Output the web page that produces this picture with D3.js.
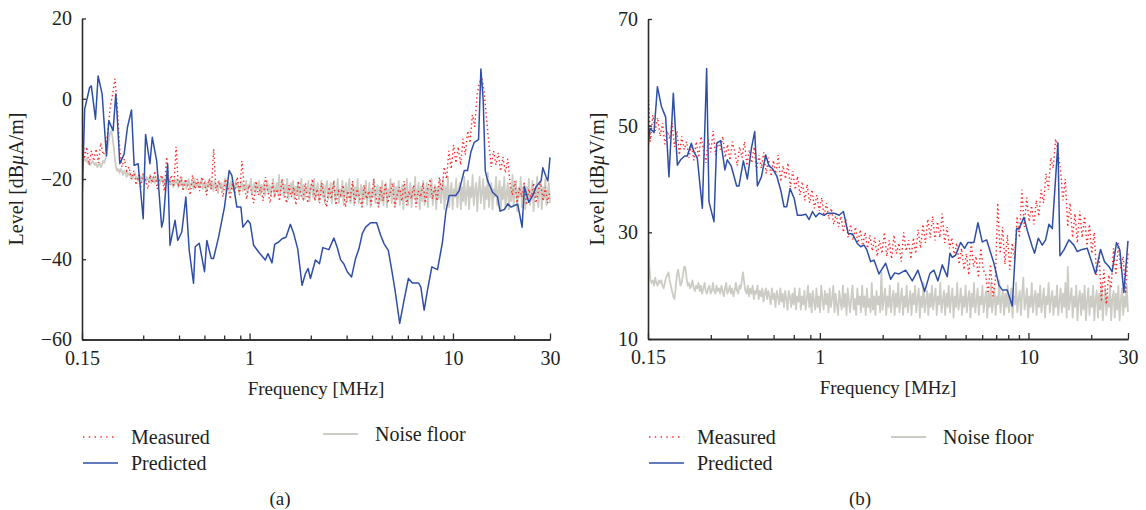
<!DOCTYPE html>
<html>
<head>
<meta charset="utf-8">
<script src="https://cdn.jsdelivr.net/npm/d3@7"></script>
<style>
  body { margin: 0; background: #fff; }
  svg text { font-family: "Liberation Serif", "Times New Roman", serif; fill: #231f20; }
</style>
</head>
<body>
<svg id="chart" width="1146" height="510"></svg>
<script>
// ---- Receiver sweeps, log-spaced from 0.15 MHz to 30 MHz ----
const sweepStart = 0.15, sweepStop = 30;
const sweepCount = 200;   // measured emission traces
const noiseCount = 400;   // ambient noise-floor traces

// ---- (a) magnetic field, dBuA/m ----
const aMeasured = [
  -7,-15,-12,-16.5,-13,-15.5,-12.5,-16,-11,-14,
  -13,-8,-2,1,5,-2,-12,-17,-15,-18,
  -17,-20,-18,-21.5,-19,-22,-18.5,-20,-22.5,-19,
  -21,-18,-22.5,-20,-19,-23,-14.5,-21.5,-19,-22,
  -12,-22,-19.5,-23,-20,-21.5,-24,-19,-22.5,-20,
  -23,-19.5,-21,-24,-20,-22.5,-12.5,-23,-20.5,-22,
  -24.5,-20,-22,-25,-21,-23.5,-19.5,-24,-15.5,-22,
  -25,-21.5,-23,-26,-20.5,-24,-22,-25.5,-19.5,-23,
  -26,-21,-24,-22.5,-25.5,-20,-23.5,-26,-21.5,-24.5,
  -22,-26.5,-20.5,-24,-25,-21,-26,-23,-20,-25.5,
  -22.5,-26,-21,-24.5,-27,-22,-25,-20.5,-26.5,-23,
  -24,-21.5,-27,-23,-25.5,-20.5,-26,-22.5,-24.5,-27,
  -21.5,-25,-23,-26.5,-20,-24.5,-27,-22,-25.5,-21,
  -26,-23.5,-21,-27,-24,-22,-25.5,-20.5,-26.5,-23,
  -25,-21.5,-27,-23,-24.5,-21,-26,-22.5,-20,-25,
  -22,-25.5,-19.5,-23,-17,-20,-13,-17.5,-11.5,-16,
  -12,-16.5,-10,-14,-8,-11,-4,-7,1,4,
  5,2,-5,-11,-17,-13,-16.5,-13.5,-18,-14.5,
  -18.5,-15,-21,-24,-20.5,-26,-22,-24.5,-21,-26.5,
  -22.5,-25,-21,-26,-23,-20.5,-25.5,-22,-26,-23
];
const aNoise = [
  -14,-14.5,-15,-15.5,-15,-16,-15.5,-16.5,-16,-15.5,
  -16,-16.5,-16,-17,-16.5,-16,-17,-16.5,-15.5,-16,
  -15,-14,-12,-10,-8.5,-8,-9.5,-12,-15,-17,
  -18,-17.5,-18.5,-17.5,-18,-19,-18,-18.5,-19.5,-18.5,
  -19,-18.5,-19.5,-20,-19,-18.5,-20,-19.5,-20.5,-19,
  -19.5,-20.5,-19,-20,-21,-19.5,-20,-20.5,-19,-21,
  -20,-19.5,-21,-20,-20.5,-19,-21.5,-20.5,-19.5,-21,
  -20,-21.5,-20.5,-19.5,-21,-20,-21.5,-20.5,-22,-20,
  -21,-20,-22,-20.5,-21.5,-19.5,-22,-21,-20.5,-22.5,
  -21,-20,-22,-21.5,-20.5,-22.5,-20,-21.5,-22,-20.5,
  -22,-21,-20,-22.5,-21.5,-20.5,-23,-21,-22,-20,
  -22.5,-21,-23,-20.5,-22,-21.5,-23.5,-20.5,-22,-21,
  -23,-21.5,-20,-23,-22,-21,-23.5,-20.5,-22.5,-21.5,
  -23,-20.5,-22,-21,-23.5,-22,-20.5,-23,-21.5,-22.5,
  -20.5,-23.5,-21.5,-22,-20,-24,-22,-21,-23.5,-21.5,
  -22.5,-20.5,-24,-21.5,-23,-21,-24,-22,-20.5,-23.5,
  -21.5,-24,-22,-20,-24.5,-22.5,-21,-23.5,-19,-24,
  -22,-20.5,-24.5,-21.5,-23.5,-20,-25,-22.5,-21,-24,
  -20.5,-25,-22,-23.5,-21,-25,-22.5,-20,-24.5,-21.5,
  -25,-22,-23.5,-20.5,-25.5,-22,-21,-24.5,-20,-25,
  -22.5,-21,-25.5,-23,-20.5,-24.5,-21.5,-26,-22,-20.5,
  -25,-23,-21,-26,-22,-20.5,-25.5,-23.5,-20,-26,
  -22.5,-24.5,-20.5,-26.5,-23,-21,-25.5,-22,-20,-26,
  -23.5,-21,-26.5,-22,-24.5,-20,-26,-23,-21.5,-27,
  -22,-25,-20.5,-26.5,-23.5,-21,-27,-22.5,-24.5,-20,
  -26,-23,-21.5,-27,-22,-25.5,-20.5,-26.5,-23,-21,
  -27,-22.5,-24.5,-20,-26,-23.5,-21,-27,-22,-25,
  -20.5,-26.5,-23,-21.5,-27.5,-22,-25,-20,-26.5,-23.5,
  -21,-27,-22.5,-24.5,-19.5,-26,-23,-21,-27.5,-22,
  -25.5,-20.5,-26.5,-23.5,-21,-27,-22,-24.5,-20,-26.5,
  -23,-21.5,-27.5,-22,-25,-20.5,-26,-23.5,-20,-27.5,
  -22,-25,-19.5,-27,-23,-21,-27.5,-22.5,-24.5,-20,
  -27,-23,-21,-27.5,-22,-25.5,-19.5,-26.5,-23.5,-20.5,
  -27.5,-22,-24.5,-19,-26.5,-23,-21,-28,-22.5,-19.5,
  -26,-23.5,-20,-27.5,-22,-25,-18.5,-27,-23,-21,
  -27.5,-22.5,-24.5,-19.5,-26.5,-23,-20.5,-28,-22,-25,
  -19.5,-27,-23.5,-21,-27.5,-22,-25.5,-19,-26.5,-23,
  -20.5,-28,-22.5,-24.5,-19.5,-27,-23,-21,-27.5,-22,
  -25,-20,-26.5,-23.5,-20.5,-28,-22.5,-24.5,-19.5,-27,
  -23,-21,-27.5,-22,-25,-20,-26.5,-23.5,-21,-26
];
const aPredFreq = [
  0.150,0.1546,0.1636,0.1667,0.1747,0.1800,0.1884,0.1978,0.2031,0.2133,
  0.2199,0.2241,0.2301,0.2417,0.2510,0.2627,0.2707,0.2832,0.2999,0.3081,
  0.3237,0.3324,0.3492,0.3697,0.3767,0.3956,0.4062,0.4302,0.4434,0.4643,
  0.4861,0.5049,0.5303,0.5404,0.5655,0.6004,0.6165,0.6477,0.6651,0.7040,
  0.7527,0.7938,0.8181,0.8661,0.9064,0.9272,0.9813,1.0078,1.0468,1.1080,
  1.1952,1.2318,1.2890,1.3287,1.3904,1.4441,1.5107,1.5871,1.6483,1.7248,
  1.8116,1.8816,1.9393,1.9917,2.1084,2.2066,2.2916,2.4537,2.5970,2.6970,
  2.8010,2.9089,3.0212,3.1733,3.3212,3.4492,3.5823,3.7204,3.9381,4.2146,
  4.4103,4.5805,4.8110,5.0350,5.1899,5.4724,5.7490,6.0397,6.3196,6.7652,
  6.9487,7.2166,7.4945,7.8726,8.3945,8.8838,9.2275,9.5833,10.335,10.733,
  11.358,11.795,12.249,12.721,13.360,13.719,14.089,14.411,14.797,15.670,
  16.584,17.032,17.894,18.585,19.302,20.046,20.819,21.869,22.457,23.593,
  24.689,25.640,27.139,27.657,28.728,29.276,30.0
];
const aPredLevel = [
  -26.2,-2.6,2.8,3.2,-5.1,5.7,1.2,-14.2,-5.5,-7.95,
  1.2,-5.5,-16.2,-13.8,-7.1,-2.8,-16.6,-16.2,-29.9,-8.9,
  -16.2,-9.6,-15.4,-32.0,-30.3,-16.2,-36.5,-30.3,-35.3,-33.2,
  -24.5,-37.8,-46.0,-36.9,-36.0,-43.1,-35.3,-39.8,-39.8,-34.5,
  -27.0,-17.9,-19.1,-27.0,-27.0,-32.0,-30.3,-31.1,-36.5,-38.2,
  -40.2,-38.6,-40.9,-36.3,-35.7,-34.9,-34.5,-31.3,-33.6,-37.4,
  -46.5,-43.6,-42.3,-44.8,-40.2,-41.1,-37.1,-37.6,-34.7,-37.0,
  -40.1,-41.2,-43.1,-44.4,-39.8,-37.4,-33.6,-32.0,-30.9,-30.9,
  -34.0,-36.1,-37.8,-43.6,-47.7,-56.0,-50.2,-44.8,-45.9,-45.9,
  -46.9,-52.7,-47.7,-41.9,-42.6,-35.7,-28.2,-24.1,-24.1,-22.9,
  -17.9,-17.9,-13.3,-10.9,-10.2,7.4,-0.5,-17.9,-20.4,-23.3,
  -24.5,-28.0,-27.6,-26.2,-27.0,-26.6,-26.3,-32.0,-22.0,-25.8,
  -24.1,-21.9,-20.4,-17.2,-19.5,-20.5,-14.6
];

// ---- (b) electric field, dBuV/m ----
const bMeasured = [
  58,47,52,49,51.5,48,50.5,46.5,49,47.5,
  50.5,46,49,44.5,48,45.5,47,44,46.5,43.5,
  47,44,48,45.5,43,47.5,45,49,44.5,47,
  45.5,48,44,46.5,43.5,47,45,42.5,46,44,
  47,42.5,45.5,43,46,41.5,44.5,42,45,41,
  44,40.5,43.5,41,44.5,39.5,42.5,40,43,38.5,
  41.5,38,40.5,37,39.5,36,39,35.5,38,34.5,
  37,34,36.5,33,35.5,32.5,34.5,31.5,33.5,31,
  33,30,32.5,29,31.5,28.5,31,28,30.5,27.5,
  30,27,29.5,26.5,29,25.5,28.5,26,30,25.5,
  28.5,25,29.5,26,28,24.5,30,26.5,28.5,25,
  29,26,30.5,27,31.5,28,32.5,29,33,28.5,
  32,29,33.5,28,31,27,29,25.5,28,24,
  27,23,26,22,28,23.5,25.5,21.5,27,23,
  22,18.5,24,18,21,35.5,26,31,24,29.5,
  23,28,25,33,29,38,31,36.5,32,35,
  31.5,36,33,38,35.5,41,38,44,42,47.5,
  45,42,36,40,31,35.5,29,33.5,28,34,
  29,33,27.5,31.5,26,30,22,26,17,23,
  16.5,22,19.5,27,22,28,23,25.5,18.5,26
];
const bNoise = [
  30,24,21,20.5,21,20,21.5,20.5,20,21,
  20.5,21,20,19.5,20.5,21.5,22,22.5,21,20,
  19,18,17.5,19.5,22,23,21.5,20,20.5,22,
  23.5,23.5,21.5,20,20.5,19.5,20,21,19.5,19,
  20,19.5,20.5,19,20,18.5,19.5,20.5,19,18.5,
  19.5,20,18.5,19,20.5,19,18.5,20,19,19.5,
  18.5,20,19,18,19.5,20.5,18.5,19,20,18.5,
  19.5,18,19,20.5,19,18.5,20,19.5,21,22.5,
  20.5,19,18.5,20,18,19.5,18.5,20,17.5,19,
  18.5,20,17.5,19,18,19.5,17,18.5,19.5,17.5,
  19,18,16.5,19.5,17.5,18.5,16,19,18,16.5,
  19.5,17,18.5,16,19,17.5,15.5,19,18,16,
  18.5,16.5,19.5,15.5,18,17,19.5,15.5,18,16.5,
  19,15.5,17.5,20,16,18.5,15,19,17,15.5,
  19.5,16,18,15,20,17.5,15.5,19,16.5,18.5,
  15,19.5,16,17.5,20,15,18.5,16.5,14.5,19,
  17,15.5,20,16,18.5,14.5,19.5,17,15,18,
  20,15.5,17.5,14.5,19.5,16.5,18,15,20,16,
  18,14.5,19.5,16,17.5,15,20.5,15.5,18,14.5,
  19,16.5,18,15,22.5,15.5,17.5,19.5,14.5,18,
  16,20,15,17.5,19,14.5,18.5,16,20.5,15,
  17.5,19.5,14.5,18,16,20,15,17,19,14.5,
  18.5,16.5,20,15,17.5,19.5,14,18,16,20.5,
  15,17,19,14.5,18.5,16,20,15.5,17.5,19.5,
  14.5,18,16.5,20.5,15,17,19,14.5,18.5,16,
  20,15,17.5,19.5,14,18,16,20.5,15.5,17,
  19.5,14.5,18,16,20,15,17.5,19,14,18.5,
  16,20.5,15,17,19.5,14.5,18,16.5,20,15,
  17.5,19,14,18.5,16,20.5,15,17,19.5,14.5,
  18,16.5,21,15,17.5,19,14.5,18.5,16,20,
  15,17,19.5,14,18,16.5,20.5,15,17.5,19,
  14.5,18.5,21.5,15.5,17,19.5,14,18,16,20.5,
  15,17.5,19,14.5,18.5,16,20,15,17,19.5,
  14,18,16.5,20.5,15,17.5,19,14.5,18,16,
  20,14.5,17,19.5,15,18.5,16,20.5,14,23.5,
  15.5,17.5,19.5,14,18,16,20,13.5,17.5,19,
  14.5,18.5,15.5,20,13.5,17,19.5,14.5,18,16,
  20,13.5,17.5,19,14,18.5,15.5,20.5,13.5,17,
  19.5,14.5,18,16,20,13.5,17.5,19,14,18.5,
  15.5,20,13.5,17,19.5,14.5,18,16,20,15
];
const bPredFreq = [
  0.150,0.1533,0.1603,0.1664,0.1739,0.1823,0.1890,0.1984,0.2074,0.2150,
  0.2248,0.2315,0.2419,0.2491,0.2585,0.2733,0.2866,0.2941,0.3107,0.3200,
  0.3344,0.3506,0.3598,0.3761,0.3991,0.4095,0.4297,0.4493,0.4696,0.4872,
  0.5018,0.5245,0.5501,0.5707,0.5921,0.6211,0.6492,0.6735,0.6936,0.7197,
  0.7524,0.7807,0.8160,0.8560,0.8881,0.9216,0.9562,0.9921,1.0481,1.0874,
  1.1705,1.2370,1.2975,1.3663,1.4330,1.5121,1.5688,1.6276,1.6763,1.7519,
  1.8175,1.9207,1.9710,2.0675,2.1845,2.2832,2.3951,2.5778,2.7745,2.9528,
  3.1779,3.3706,3.5224,3.6812,3.8613,4.0806,4.2027,4.3119,4.4737,4.7279,
  4.9412,5.1259,5.4775,5.7249,6.0045,6.2992,6.8291,7.2157,7.4871,7.9126,
  8.3617,8.7723,8.9995,9.5103,9.8668,10.428,10.700,11.142,11.646,12.082,
  12.535,13.005,13.842,14.151,14.789,15.628,16.514,17.133,18.104,19.130,
  19.847,20.963,22.152,23.151,24.285,25.190,26.423,27.414,28.655,30.0
];
const bPredLevel = [
  45.75,49.5,48.7,57.3,53.6,51.6,40.4,56.1,42.6,43.6,
  44.3,44.3,46.7,45.1,43.9,34.5,60.7,35.7,32.0,46.7,
  47.2,41.7,43.6,42.4,38.7,38.7,43.4,40.0,45.75,48.9,
  38.7,40.4,44.5,42.4,42.0,40.6,37.9,34.8,34.8,38.2,
  36.4,33.2,33.2,33.4,32.4,33.9,32.9,33.6,33.2,33.6,
  33.6,33.2,33.9,29.8,29.7,27.9,27.3,27.6,26.8,24.5,
  24.8,22.2,22.9,24.2,21.2,22.4,22.2,22.9,20.9,22.9,
  18.9,22.3,22.9,20.9,23.9,21.7,26.1,25.3,25.7,28.1,
  27.0,28.1,28.1,31.8,28.2,28.6,24.2,20.1,19.2,19.2,
  16.2,30.7,30.6,32.8,30.4,27.3,26.1,28.9,27.6,28.6,
  31.5,30.7,46.8,25.6,26.7,28.6,27.6,26.4,26.8,27.0,
  25.1,22.2,26.8,24.5,23.6,22.6,28.1,26.7,18.7,28.4
];

// ---- Axis ticks ----
const freqMajor = [0.15, 1, 10, 30];
const freqMinor = [0.3, 0.45, 0.6, 0.75, 0.9, 2, 3, 4, 5, 6, 7, 8, 9, 20];
const aLevelTicks = [20, 0, -20, -40, -60];
const bLevelTicks = [70, 50, 30, 10];

const colors = { measured: "#ff2626", predicted: "#2f4fa6", noise: "#cdccc4", axis: "#2b2b2b" };

const logGrid = n => d3.range(n).map(i => sweepStart * Math.pow(sweepStop / sweepStart, i / (n - 1)));
const sweepFreq = logGrid(sweepCount);
const noiseFreq = logGrid(noiseCount);
const svg = d3.select("#chart");

function drawPanel(p) {
  const x = d3.scaleLog().domain([sweepStart, sweepStop]).range([p.left, p.right]);
  const y = d3.scaleLinear().domain(p.yDomain).range([p.bottom, p.top]);
  const g = svg.append("g");

  g.append("clipPath").attr("id", p.id + "-clip")
    .append("rect").attr("x", p.left).attr("y", p.top - 2)
    .attr("width", p.right - p.left + 1).attr("height", p.bottom - p.top + 2);

  const line = d3.line().x(d => x(d[0])).y(d => y(d[1]));
  const plot = g.append("g").attr("clip-path", `url(#${p.id}-clip)`);

  plot.append("path").datum(d3.zip(noiseFreq, p.noise))
    .attr("d", line).attr("fill", "none").attr("stroke", colors.noise)
    .attr("stroke-width", 1.8).attr("stroke-linejoin", "round");
  plot.append("path").datum(d3.zip(sweepFreq, p.measured))
    .attr("d", line).attr("fill", "none").attr("stroke", colors.measured)
    .attr("stroke-width", 1.4).attr("stroke-dasharray", "1.4 2.8");
  plot.append("path").datum(d3.zip(p.predFreq, p.predLevel))
    .attr("d", line).attr("fill", "none").attr("stroke", colors.predicted)
    .attr("stroke-width", 1.5).attr("stroke-linejoin", "round");

  // x axis: labelled decades plus minor ticks, all pointing inward
  const xMajor = d3.axisBottom(x).tickValues(freqMajor).tickSize(-6).tickSizeOuter(0)
    .tickPadding(11).tickFormat(d => String(d));
  const xMinor = d3.axisBottom(x).tickValues(freqMinor).tickSize(-4).tickSizeOuter(0).tickFormat("");
  const yAxis = d3.axisLeft(y).tickValues(p.yTicks).tickSize(-4).tickSizeOuter(0)
    .tickPadding(10).tickFormat(d3.format("d"));

  [xMinor, xMajor].forEach(ax => {
    g.append("g").attr("transform", `translate(0,${p.bottom})`).call(ax);
  });
  g.append("g").attr("transform", `translate(${p.left},0)`).call(yAxis);

  g.selectAll(".domain").attr("stroke", colors.axis).attr("stroke-width", 1.6);
  g.selectAll(".tick line").attr("stroke", colors.axis).attr("stroke-width", 1.3);
  g.selectAll(".tick text").attr("font-size", 20)
    .attr("font-family", '"Liberation Serif", "Times New Roman", serif').attr("fill", "#231f20");

  // axis titles
  g.append("text").attr("x", (p.left + p.right) / 2).attr("y", p.bottom + 55)
    .attr("text-anchor", "middle").attr("font-size", 19).text("Frequency [MHz]");
  const yt = g.append("text").attr("transform", `translate(${p.yTitleX},${(p.top + p.bottom) / 2}) rotate(-90)`)
    .attr("text-anchor", "middle").attr("font-size", 20);
  yt.append("tspan").text("Level [dB");
  yt.append("tspan").attr("font-style", "italic").text("\u03bc");
  yt.append("tspan").text(p.unit + "/m]");

  // legend
  const L = p.legend;
  g.append("line").attr("x1", L.x).attr("x2", L.x + 35).attr("y1", L.y1).attr("y2", L.y1)
    .attr("stroke", colors.measured).attr("stroke-width", 1.4).attr("stroke-dasharray", "1.4 4.4");
  g.append("text").attr("x", L.x + 48).attr("y", L.y1 + 7).attr("font-size", 20).text("Measured");
  g.append("line").attr("x1", L.x).attr("x2", L.x + 35).attr("y1", L.y2).attr("y2", L.y2)
    .attr("stroke", colors.predicted).attr("stroke-width", 1.5);
  g.append("text").attr("x", L.x + 48).attr("y", L.y2 + 7).attr("font-size", 20).text("Predicted");
  g.append("line").attr("x1", L.nx).attr("x2", L.nx + 35).attr("y1", L.ny).attr("y2", L.ny)
    .attr("stroke", colors.noise).attr("stroke-width", 2);
  g.append("text").attr("x", L.nx + 52).attr("y", L.ny + 7).attr("font-size", 20).text("Noise floor");

  g.append("text").attr("x", p.captionX).attr("y", 505).attr("text-anchor", "middle")
    .attr("font-size", 19).text(p.caption);
}

drawPanel({
  id: "pa", left: 82, right: 550, top: 18.5, bottom: 339.5,
  yDomain: [-60, 20], yTicks: aLevelTicks, unit: "A", yTitleX: 23,
  measured: aMeasured, noise: aNoise, predFreq: aPredFreq, predLevel: aPredLevel,
  legend: { x: 83, y1: 437, y2: 463, nx: 323, ny: 434 },
  caption: "(a)", captionX: 280
});
drawPanel({
  id: "pb", left: 648, right: 1128, top: 19, bottom: 339,
  yDomain: [10, 70], yTicks: bLevelTicks, unit: "V", yTitleX: 604,
  measured: bMeasured, noise: bNoise, predFreq: bPredFreq, predLevel: bPredLevel,
  legend: { x: 649, y1: 437, y2: 463, nx: 891, ny: 437 },
  caption: "(b)", captionX: 860
});
</script>
</body>
</html>
